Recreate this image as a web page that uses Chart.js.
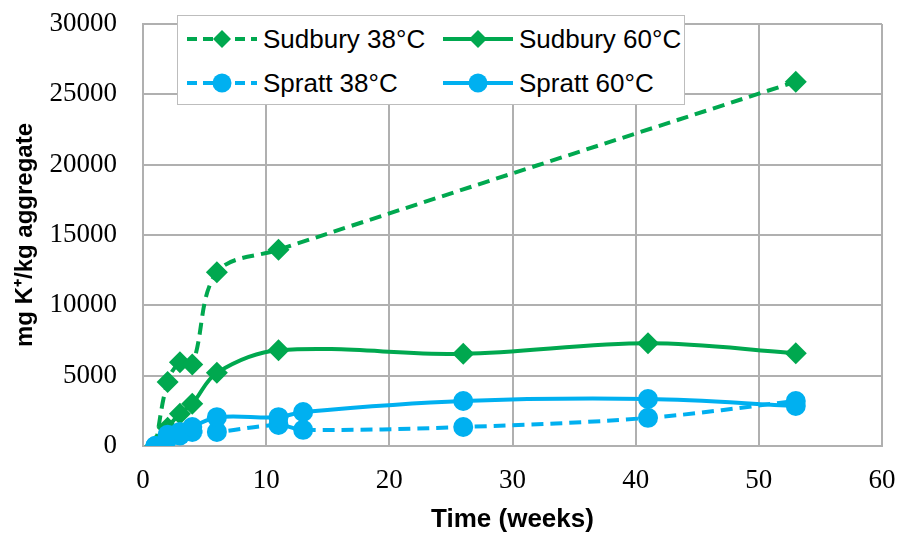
<!DOCTYPE html>
<html>
<head>
<meta charset="utf-8">
<script src="https://cdn.jsdelivr.net/npm/chart.js@4"></script>
<style>
  body { margin: 0; background: #fff; }
  #wrap { position: relative; width: 903px; height: 536px; }
  #legend { position: absolute; left: 177px; top: 15px; width: 506px; height: 88px;
            border: 1.5px solid #bdbdbd; background: #fff; font-family: "Liberation Sans", Arial, sans-serif;
            font-size: 26px; color: #000; }
  .item { position: absolute; display: flex; align-items: center; height: 30px; }
  .item svg { margin-right: 5px; }
</style>
</head>
<body>
<div id="wrap">
  <canvas id="chart" width="903" height="536"></canvas>
  <div id="legend"></div>
</div>
<script>
// data
const sudburyWeeks38 = [1, 2, 3, 4, 6, 11, 53];
const sudbury38 = [0, 4550, 5950, 5800, 12350, 13950, 25900];
const sudburyWeeks60 = [1, 2, 3, 4, 6, 11, 26, 41, 53];
const sudbury60 = [0, 1300, 2300, 3000, 5200, 6800, 6550, 7300, 6600];
const sprattWeeks = [1, 2, 3, 4, 6, 11, 13, 26, 41, 53];
const spratt38 = [0, 500, 750, 1000, 1000, 1500, 1150, 1350, 2000, 3200];
const spratt60 = [0, 800, 1000, 1350, 2050, 2050, 2420, 3200, 3340, 2850];
const seriesNames = ['Sudbury 38°C', 'Sudbury 60°C', 'Spratt 38°C', 'Spratt 60°C'];

const GREEN = '#00a84f';
const BLUE = '#00b0f0';

function pts(xs, ys) {
    return xs.map((x, i) => ({x: x, y: ys[i]}));
}

function series(name, xs, ys, color, dashed, shape, order) {
    return {
        label: name,
        data: pts(xs, ys),
        borderColor: color,
        backgroundColor: color,
        borderWidth: 4,
        borderDash: dashed ? [12, 7] : [],
        pointStyle: shape,
        pointRadius: shape === 'rectRot' ? 11 : 10,
        pointBorderWidth: 0,
        tension: 0.35,
        order: order
    };
}

const datasets = [
    series(seriesNames[0], sudburyWeeks38, sudbury38, GREEN, true, 'rectRot', 4),
    series(seriesNames[1], sudburyWeeks60, sudbury60, GREEN, false, 'rectRot', 3),
    series(seriesNames[2], sprattWeeks, spratt38, BLUE, true, 'circle', 2),
    series(seriesNames[3], sprattWeeks, spratt60, BLUE, false, 'circle', 1)
];

const gridColor = '#b0b0b0';
const tickFont = {family: '"Liberation Serif", "Times New Roman", serif', size: 27};
const titleFont = {family: '"Liberation Sans", Arial, sans-serif', size: 24, weight: 'bold'};

new Chart(document.getElementById('chart'), {
    type: 'line',
    data: {datasets: datasets},
    options: {
        responsive: false,
        animation: false,
        layout: {padding: {top: 24, right: 21, left: 0, bottom: 0}},
        plugins: {legend: {display: false}, tooltip: {enabled: false}},
        scales: {
            x: {
                type: 'linear', min: 0, max: 60,
                ticks: {stepSize: 10, color: '#000', font: tickFont, padding: 19, maxRotation: 0,
                        callback: v => String(v)},
                grid: {color: gridColor, lineWidth: 2, drawTicks: false},
                border: {color: gridColor, width: 2},
                title: {display: true, text: 'Time (weeks)', color: '#000', font: {...titleFont, size: 26}, padding: {top: 0, bottom: 1}},
                afterFit: s => { s.height = 90; s.paddingLeft = 0; s.paddingRight = 0; }
            },
            y: {
                min: 0, max: 30000,
                ticks: {stepSize: 5000, color: '#000', font: tickFont, padding: 26,
                        callback: v => String(v)},
                grid: {color: gridColor, lineWidth: 2, drawTicks: false},
                border: {color: gridColor, width: 2},
                title: {display: true, text: 'mg K⁺/kg aggregate', color: '#000', font: titleFont, padding: {top: 11, bottom: 0}},
                afterFit: s => { s.width = 143; s.paddingTop = 0; s.paddingBottom = 0; }
            }
        }
    }
});

// legend box drawn inside the plot, two columns like the original
const legend = document.getElementById('legend');
const spots = [[8, 8], [264, 8], [8, 52], [264, 52]];
datasets.forEach((d, i) => {
    const item = document.createElement('div');
    item.className = 'item';
    item.style.left = spots[i][0] + 'px';
    item.style.top = spots[i][1] + 'px';
    const dash = d.borderDash.length ? 'stroke-dasharray="10 6"' : '';
    const mark = d.pointStyle === 'rectRot'
        ? `<polygon points="36,3 45,12 36,21 27,12" fill="${d.borderColor}"/>`
        : `<circle cx="36" cy="12" r="9.5" fill="${d.borderColor}"/>`;
    item.innerHTML = `<svg width="72" height="24"><line x1="1" y1="12" x2="71" y2="12" stroke="${d.borderColor}" stroke-width="4" ${dash}/>${mark}</svg><span>${d.label}</span>`;
    legend.appendChild(item);
});
</script>
</body>
</html>
